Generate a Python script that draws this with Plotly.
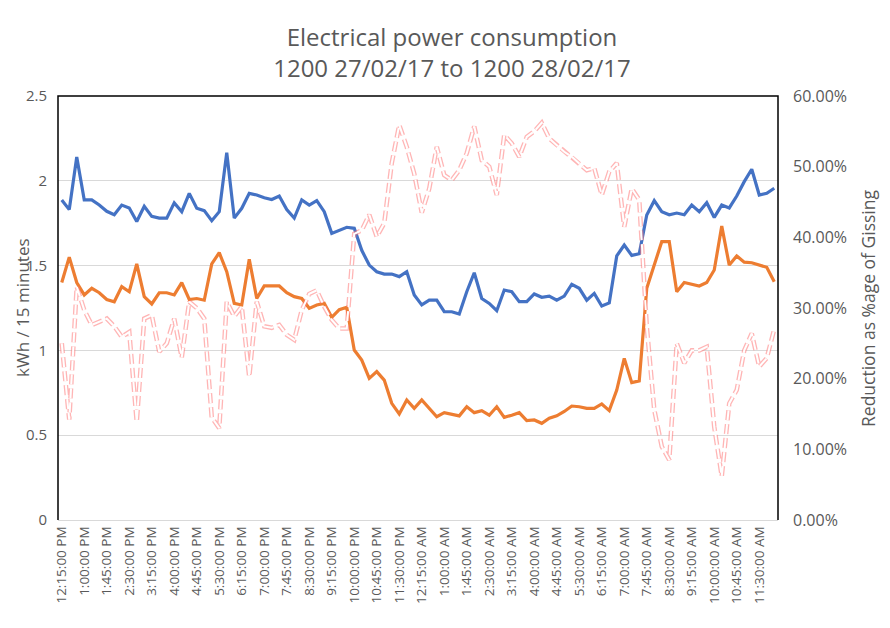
import plotly.graph_objects as go

# ---- category labels (15-minute intervals, 12:15 PM -> 12:00 PM next day)
def _time_label(k):
    minutes = 12 * 60 + 15 + 15 * k
    minutes %= 24 * 60
    h24, mm = divmod(minutes, 60)
    ampm = "AM" if h24 < 12 else "PM"
    h12 = h24 % 12
    if h12 == 0:
        h12 = 12
    return f"{h12}:{mm:02d}:00 {ampm}"

categories = [_time_label(k) for k in range(96)]
tick_labels = categories[::3]

# ---- series values (kWh per 15 minutes)
blue_kwh = [
    1.887, 1.83, 2.14, 1.887, 1.887, 1.857, 1.82, 1.80, 1.857, 1.84,
    1.76, 1.85, 1.79, 1.78, 1.78, 1.87, 1.818, 1.926, 1.838, 1.824,
    1.765, 1.818, 2.166, 1.78, 1.838, 1.926, 1.916, 1.90, 1.89, 1.91,
    1.83, 1.78, 1.887, 1.857, 1.883, 1.818, 1.69, 1.706, 1.726, 1.72,
    1.59, 1.503, 1.464, 1.45, 1.45, 1.435, 1.464, 1.327, 1.268, 1.296,
    1.296, 1.228, 1.228, 1.215, 1.346, 1.458, 1.306, 1.277, 1.234, 1.356,
    1.346, 1.287, 1.287, 1.333, 1.313, 1.32, 1.296, 1.32, 1.39, 1.366,
    1.296, 1.336, 1.262, 1.28, 1.557, 1.621, 1.56, 1.57, 1.798, 1.883,
    1.818, 1.80, 1.81, 1.80, 1.857, 1.818, 1.871, 1.784, 1.857, 1.84,
    1.91, 1.995, 2.068, 1.916, 1.926, 1.956,
]

orange_kwh = [
    1.40, 1.55, 1.40, 1.327, 1.366, 1.34, 1.30, 1.287, 1.376, 1.346,
    1.51, 1.317, 1.274, 1.34, 1.34, 1.327, 1.40, 1.30, 1.306, 1.296,
    1.51, 1.576, 1.464, 1.277, 1.268, 1.537, 1.306, 1.38, 1.38, 1.38,
    1.34, 1.317, 1.306, 1.248, 1.268, 1.277, 1.195, 1.24, 1.254, 1.002,
    0.943, 0.835, 0.875, 0.825, 0.688, 0.625, 0.708, 0.658, 0.708, 0.66,
    0.609, 0.633, 0.625, 0.614, 0.668, 0.633, 0.645, 0.618, 0.668, 0.605,
    0.618, 0.633, 0.586, 0.59, 0.57, 0.60, 0.614, 0.64, 0.672, 0.668,
    0.658, 0.658, 0.684, 0.645, 0.766, 0.953, 0.81, 0.82, 1.366, 1.51,
    1.641, 1.641, 1.346, 1.40, 1.39, 1.38, 1.40, 1.474, 1.733, 1.503,
    1.557, 1.52, 1.517, 1.503, 1.49, 1.405,
]

# ---- reduction as fraction (right axis)
reduction_pct = [
    0.25, 0.142, 0.33, 0.297, 0.276, 0.28, 0.285, 0.274, 0.259, 0.266,
    0.139, 0.285, 0.29, 0.238, 0.25, 0.285, 0.23, 0.309, 0.30, 0.285,
    0.145, 0.13, 0.309, 0.288, 0.302, 0.203, 0.309, 0.274, 0.272, 0.276,
    0.262, 0.255, 0.297, 0.32, 0.325, 0.302, 0.283, 0.271, 0.271, 0.405,
    0.41, 0.432, 0.401, 0.42, 0.505, 0.559, 0.528, 0.49, 0.435, 0.469,
    0.528, 0.488, 0.481, 0.495, 0.519, 0.557, 0.509, 0.50, 0.46, 0.545,
    0.533, 0.514, 0.542, 0.55, 0.562, 0.54, 0.531, 0.521, 0.514, 0.505,
    0.495, 0.498, 0.46, 0.493, 0.505, 0.415, 0.469, 0.453, 0.274, 0.156,
    0.104, 0.085, 0.25, 0.222, 0.24, 0.24, 0.245, 0.132, 0.062, 0.165,
    0.184, 0.24, 0.264, 0.217, 0.229, 0.27,
]

FONT = "Open Sans"
GREY = "#595959"

# the page body has an 8px margin, so the figure is sized to fit inside the window
W, H = 874, 612

fig = go.Figure()
fig.add_trace(go.Scatter(x=categories, y=blue_kwh, mode="lines",
                         line=dict(color="#4472C4", width=3.2),
                         name="Series 1", showlegend=False))
fig.add_trace(go.Scatter(x=categories, y=orange_kwh, mode="lines",
                         line=dict(color="#ED7D31", width=3.2),
                         name="Series 2", showlegend=False))
fig.add_trace(go.Scatter(x=categories, y=reduction_pct, mode="lines", yaxis="y2",
                         line=dict(color="rgba(255,120,120,0.55)", width=4.6, dash="10px,4px"),
                         name="Reduction", showlegend=False))
fig.add_trace(go.Scatter(x=categories, y=reduction_pct, mode="lines", yaxis="y2",
                         line=dict(color="white", width=2.0, dash="10px,4px"),
                         hoverinfo="skip", showlegend=False))

fig.update_layout(
    width=W, height=H,
    margin=dict(l=50, r=104, t=88, b=100),
    paper_bgcolor="white", plot_bgcolor="white",
    font=dict(family=FONT, color=GREY),
    title=dict(text="Electrical power consumption<br>1200 27/02/17 to 1200 28/02/17",
               x=444 / W, xref="container", xanchor="center",
               y=1 - 38 / H, yref="container", yanchor="top",
               font=dict(size=24, color=GREY, family=FONT)),
    xaxis=dict(type="category", range=[-0.5, 95.5],
               tickmode="array", tickvals=tick_labels, ticktext=tick_labels,
               tickangle=-90, tickfont=dict(size=13.5, color=GREY),
               showgrid=False, showline=True, linecolor="#D9D9D9", linewidth=1,
               ticks="", zeroline=False, automargin=False),
    yaxis=dict(range=[0, 2.5], dtick=0.5,
               tickfont=dict(size=15, color=GREY),
               showgrid=True, gridcolor="#D9D9D9", gridwidth=1,
               showline=False, zeroline=False, ticks="", ticklabelstandoff=10,
               automargin=False),
    yaxis2=dict(range=[0, 0.6], dtick=0.1, tickformat=".2%", overlaying="y", side="right",
                tickfont=dict(size=16, color=GREY), showgrid=False,
                showline=False, zeroline=False, ticks="", ticklabelstandoff=14,
                automargin=False),
    shapes=[dict(type="path", xref="paper", yref="paper",
                 path="M 0,0 L 0,1 L 1,1 L 1,0",
                 line=dict(color="black", width=1.5))],
    annotations=[
        dict(text="kWh / 15 minutes", xref="paper", yref="paper",
             x=-36 / 720, y=0.5, textangle=-90, showarrow=False,
             xanchor="center", yanchor="middle",
             font=dict(size=17, color=GREY, family=FONT)),
        dict(text="Reduction as %age of Gissing", xref="paper", yref="paper",
             x=810 / 720, y=0.5, textangle=-90, showarrow=False,
             xanchor="center", yanchor="middle",
             font=dict(size=17.5, color=GREY, family=FONT)),
    ],
)

fig.write_html("out.html")
